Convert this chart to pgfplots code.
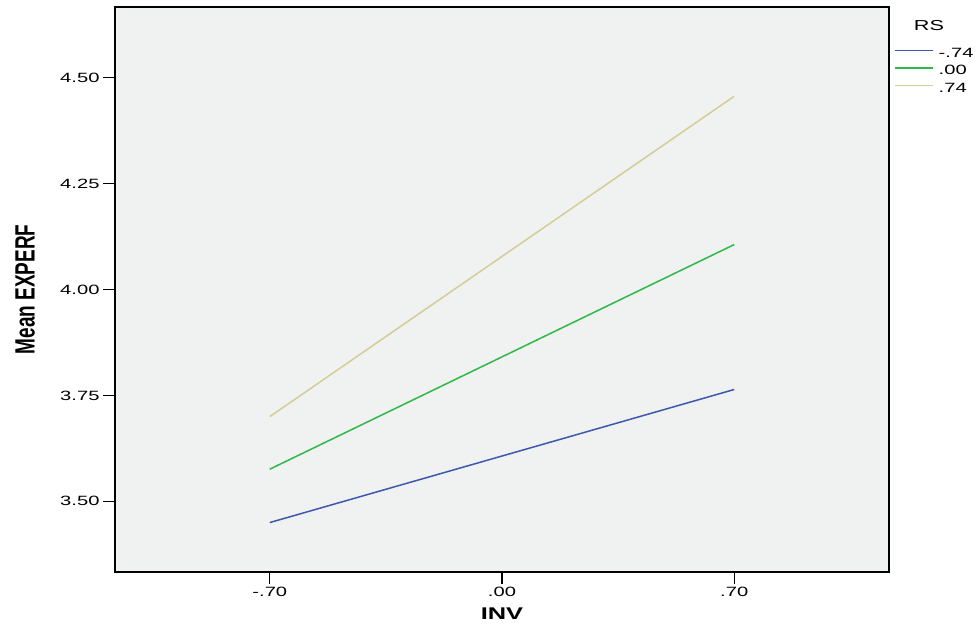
\documentclass[border=0pt]{standalone}
\usepackage{fontspec}
\setmainfont{Liberation Sans}
\newfontfamily\widefont[FakeStretch=1.5]{Liberation Sans}
\newfontfamily\narrowfont[FakeStretch=0.68]{Liberation Sans}
\usepackage{pgfplots}
\pgfplotsset{compat=1.18}
\definecolor{cblue}{HTML}{3E58AC}
\definecolor{cgreen}{HTML}{2EB848}
\definecolor{cbeige}{HTML}{D3CE97}
\definecolor{bg}{HTML}{F0F1F1}
\begin{document}
\begin{tikzpicture}
\useasboundingbox (-115bp,-58bp) rectangle (864bp,572bp);
\begin{axis}[
  at={(0,0)}, anchor=south west,
  scale only axis, width=774bp, height=565bp,
  xmin=-1.1667, xmax=1.1667, ymin=3.3333, ymax=4.6667,
  axis background/.style={fill=bg},
  axis line style={black, line width=1.6bp},
  tick style={black, line width=1.2bp},
  major tick length=12bp,
  tick align=outside,
  xtick={-0.7,0,0.7}, xticklabels={-.70,.00,.70},
  ytick={3.5,3.75,4,4.25,4.5}, yticklabels={3.50,3.75,4.00,4.25,4.50},
  xtick pos=bottom, ytick pos=left,
  ticklabel style={font=\widefont\fontsize{13.5}{13.5}\selectfont},
  xlabel={INV}, ylabel={Mean EXPERF},
  xlabel style={at={(axis description cs:0.5,-0.074)}, anchor=center, font=\widefont\fontsize{17}{17}\selectfont\bfseries},
  ylabel style={at={(axis description cs:-0.116,0.5)}, anchor=center, font=\narrowfont\fontsize{28}{28}\selectfont\bfseries},
  clip=false,
  legend image code/.code={\draw[#1, line width=1.5bp] (0bp,4.5bp) -- (38bp,4.5bp);},
  legend style={at={(axis description cs:1.0065,0.931)}, anchor=north west,
    draw=none, fill=none, inner sep=0pt, row sep=0pt, column sep=5bp,
    font=\widefont\fontsize{13.5}{13.5}\selectfont,
    nodes={inner sep=0pt, text height=11bp, text depth=6.5bp}},
  legend cell align=left,
]
\addplot[cblue, line width=1.5bp] coordinates {(-0.7,3.450) (0.7,3.764)};
\addlegendentry{-.74}
\addplot[cgreen, line width=1.5bp] coordinates {(-0.7,3.576) (0.7,4.106)};
\addlegendentry{.00}
\addplot[cbeige, line width=1.5bp] coordinates {(-0.7,3.700) (0.7,4.456)};
\addlegendentry{.74}
\node at (axis description cs:1.0517,0.968) {\widefont\fontsize{14.5}{14.5}\selectfont RS};
\end{axis}
\end{tikzpicture}
\end{document}
